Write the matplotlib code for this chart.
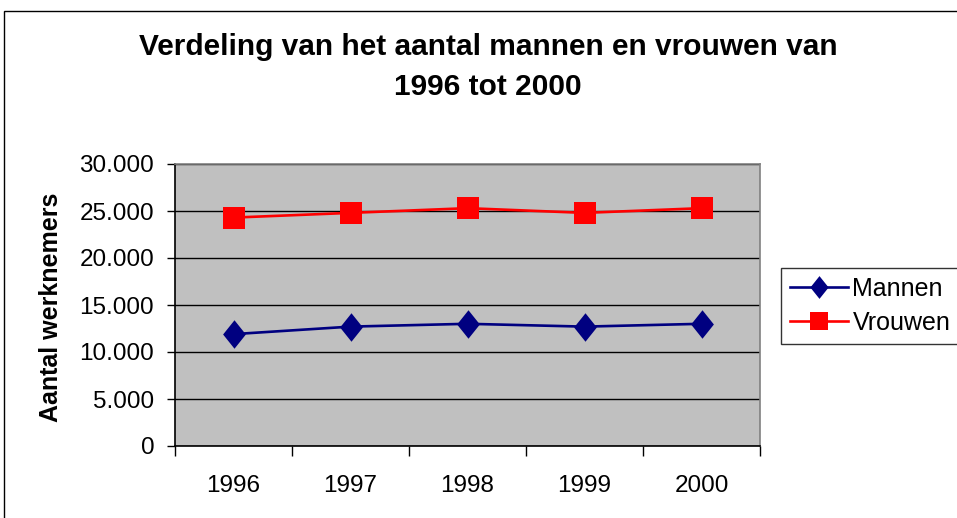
import numpy as np
import matplotlib.pyplot as plt
from matplotlib.path import Path
from matplotlib.patches import Rectangle
from matplotlib.ticker import FuncFormatter, FixedLocator

plt.rcParams['font.family'] = ['Liberation Sans', 'DejaVu Sans']

# data
years = ['1996', '1997', '1998', '1999', '2000']
mannen = [11900, 12700, 13000, 12700, 13000]
vrouwen = [24300, 24800, 25300, 24800, 25300]

W, H = 957, 518
fig = plt.figure(figsize=(W / 100, H / 100), dpi=100)
fig.patch.set_facecolor('white')

# outer chart frame
fig.patches.append(Rectangle((4 / W, -0.05), 1.1, (H - 11) / H + 0.05,
                             transform=fig.transFigure, fill=False,
                             edgecolor='black', linewidth=1.0))

# plot area in pixels: left 175, right 760, top 164, bottom 446
ax = fig.add_axes([175 / W, 1 - 446 / H, (760 - 175) / W, (446 - 164) / H])
ax.set_facecolor('#C0C0C0')

x = np.arange(len(years))

diamond = Path([(0, 1), (0.8, 0), (0, -1), (-0.8, 0), (0, 1)],
               [Path.MOVETO, Path.LINETO, Path.LINETO, Path.LINETO, Path.CLOSEPOLY])

ax.plot(x, mannen, color='#000080', linewidth=1.9, marker=diamond,
        markersize=20.5, markeredgewidth=0, markerfacecolor='#000080',
        label='Mannen', zorder=3)
ax.plot(x, vrouwen, color='#FF0000', linewidth=1.9, marker='s',
        markersize=16, markeredgewidth=0, markerfacecolor='#FF0000',
        label='Vrouwen', zorder=3)

ax.set_xlim(-0.5, len(years) - 0.5)
ax.set_ylim(0, 30000)
ax.set_yticks(np.arange(0, 30001, 5000))
ax.yaxis.set_major_formatter(FuncFormatter(
    lambda v, p: '0' if v == 0 else f'{int(v):,}'.replace(',', '.')))
ax.grid(axis='y', color='black', linewidth=1.0)
ax.set_axisbelow(True)

ax.set_xticks(x)
ax.set_xticklabels(years)
ax.xaxis.set_minor_locator(FixedLocator(np.arange(-0.5, len(years), 1.0)))
ax.tick_params(axis='x', which='major', length=0, pad=21, labelsize=17.5)
ax.tick_params(axis='x', which='minor', length=7, width=1, direction='out', color='black')
ax.tick_params(axis='y', length=6, width=1, direction='out', labelsize=17.5, pad=9)

ax.spines['left'].set_color('black')
ax.spines['bottom'].set_color('black')
ax.spines['top'].set_color('#808080')
ax.spines['right'].set_color('#808080')
for s in ax.spines.values():
    s.set_linewidth(1.2)

ax.set_ylabel('Aantal werknemers', fontsize=18, fontweight='bold')
ax.yaxis.set_label_coords(63 / W, 1 - 307 / H, transform=fig.transFigure)

fig.text(488 / W, 1 - 47 / H, 'Verdeling van het aantal mannen en vrouwen van',
         ha='center', va='center', fontsize=21.5, fontweight='bold')
fig.text(488 / W, 1 - 87 / H, '1996 tot 2000',
         ha='center', va='center', fontsize=21.5, fontweight='bold')

leg = fig.legend(loc='upper left', bbox_to_anchor=(781 / W, 1 - 268 / H),
                 fontsize=18, frameon=True, fancybox=False, markerscale=0.8,
                 handlelength=2.3, handletextpad=0.2, borderpad=0.36,
                 labelspacing=0.4, borderaxespad=0)
leg.get_frame().set_edgecolor('black')
leg.get_frame().set_linewidth(1.0)

fig.savefig('out.png', dpi=100)
